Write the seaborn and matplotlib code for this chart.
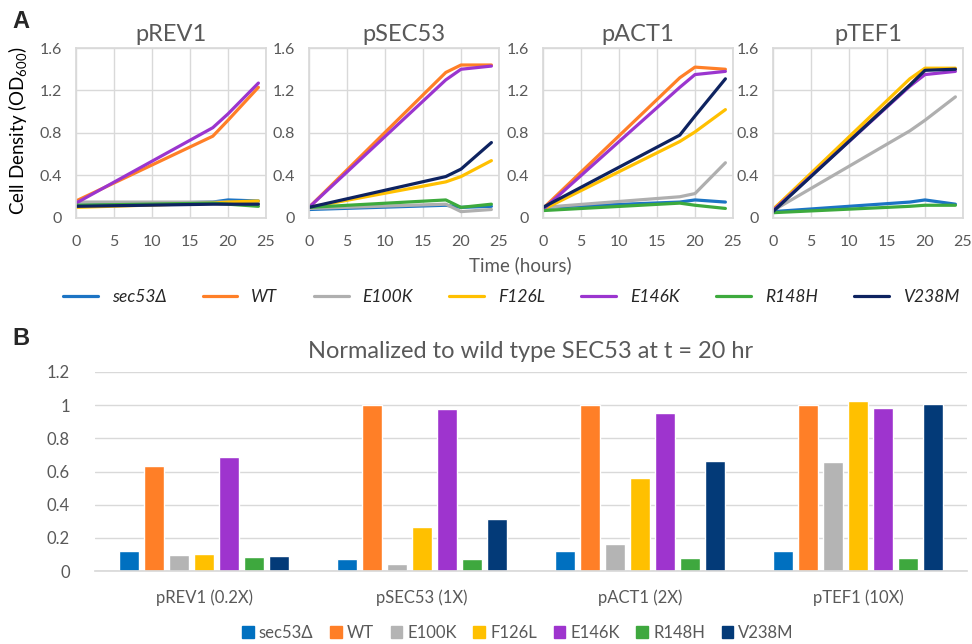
import pandas as pd
import seaborn as sns
import matplotlib.pyplot as plt
from matplotlib.lines import Line2D
from matplotlib.patches import Patch

# strains and colours
strains = ["sec53Δ", "WT", "E100K", "F126L", "E146K", "R148H", "V238M"]
line_colors = ["#1C74C4", "#FF7F27", "#AFAFAF", "#FFC000", "#9B35CF", "#3DAA3D", "#0E2360"]
bar_colors = ["#0070C0", "#FF7F27", "#B4B4B4", "#FFC000", "#9E34CE", "#3EA83E", "#033A78"]

# A: growth curves (OD600), rows follow the strain order
times = [0, 18, 20, 24]
od_prev1 = [[0.12, 0.15, 0.17, 0.16],
            [0.16, 0.77, 0.92, 1.23],
            [0.15, 0.15, 0.15, 0.14],
            [0.10, 0.14, 0.15, 0.16],
            [0.14, 0.85, 0.98, 1.27],
            [0.12, 0.14, 0.13, 0.11],
            [0.11, 0.13, 0.13, 0.13]]
od_psec53 = [[0.08, 0.12, 0.10, 0.11],
             [0.10, 1.37, 1.44, 1.44],
             [0.09, 0.13, 0.06, 0.08],
             [0.10, 0.34, 0.39, 0.54],
             [0.10, 1.30, 1.40, 1.43],
             [0.10, 0.17, 0.10, 0.13],
             [0.10, 0.39, 0.46, 0.71]]
od_pact1 = [[0.10, 0.15, 0.17, 0.15],
            [0.09, 1.32, 1.42, 1.40],
            [0.10, 0.20, 0.23, 0.52],
            [0.08, 0.72, 0.81, 1.02],
            [0.08, 1.23, 1.35, 1.38],
            [0.07, 0.14, 0.12, 0.09],
            [0.10, 0.78, 0.96, 1.31]]
od_ptef1 = [[0.06, 0.15, 0.17, 0.13],
            [0.08, 1.25, 1.40, 1.40],
            [0.07, 0.82, 0.92, 1.14],
            [0.08, 1.31, 1.41, 1.41],
            [0.07, 1.24, 1.35, 1.38],
            [0.05, 0.11, 0.12, 0.12],
            [0.06, 1.25, 1.39, 1.40]]
promoters = ["pREV1", "pSEC53", "pACT1", "pTEF1"]
curves = [od_prev1, od_psec53, od_pact1, od_ptef1]

# B: normalized to WT SEC53 at 20 hr
groups = ["pREV1 (0.2X)", "pSEC53 (1X)", "pACT1 (2X)", "pTEF1 (10X)"]
norm_prev1 = [0.12, 0.635, 0.095, 0.105, 0.69, 0.083, 0.09]
norm_psec53 = [0.07, 1.0, 0.043, 0.265, 0.975, 0.072, 0.315]
norm_pact1 = [0.118, 1.0, 0.16, 0.56, 0.95, 0.08, 0.665]
norm_ptef1 = [0.12, 1.0, 0.66, 1.025, 0.98, 0.08, 1.005]
norms = [norm_prev1, norm_psec53, norm_pact1, norm_ptef1]

rows = []
for prom, cur in zip(promoters, curves):
    for s, vals in zip(strains, cur):
        for t, v in zip(times, vals):
            rows.append({"promoter": prom, "strain": s, "time": t, "od": v})
growth = pd.DataFrame(rows)

rows = []
for g, vals in zip(groups, norms):
    for s, v in zip(strains, vals):
        rows.append({"group": g, "strain": s, "value": v})
normdf = pd.DataFrame(rows)

sns.set_theme(style="white")
plt.rcParams["font.family"] = ["Lato", "DejaVu Sans"]
plt.rcParams["mathtext.default"] = "regular"
txt = "#595959"
grid = "#D9D9D9"

W, H = 972, 644
fig = plt.figure(figsize=(9.72, 6.44), dpi=100)

def box(x0, y0, x1, y1):
    return [x0 / W, 1 - y1 / H, (x1 - x0) / W, (y1 - y0) / H]

lefts = [76, 309, 543, 773]
for i, (prom, x0) in enumerate(zip(promoters, lefts)):
    ax = fig.add_axes(box(x0, 48, x0 + 190, 218))
    sns.lineplot(data=growth[growth.promoter == prom], x="time", y="od", hue="strain",
                 hue_order=strains, palette=line_colors, linewidth=2.3, legend=False, ax=ax)
    ax.set_xlim(0, 25)
    ax.set_ylim(0, 1.6)
    ax.set_xticks(range(0, 26, 5))
    ax.set_yticks([0, 0.4, 0.8, 1.2, 1.6])
    ax.set_yticklabels(["0", "0.4", "0.8", "1.2", "1.6"])
    ax.grid(True, color=grid, linewidth=1)
    for sp in ax.spines.values():
        sp.set_color(grid)
    ax.tick_params(length=0, labelsize=11.5, labelcolor=txt)
    ax.tick_params(axis="y", pad=10)
    ax.tick_params(axis="x", pad=12)
    ax.set_xlabel("")
    ax.set_ylabel("")
    ax.set_title(prom, fontsize=17, color=txt, pad=5)

fig.text(18 / W, 1 - 131 / H, "Cell Density (OD$_{600}$)", rotation=90, ha="center",
         va="center", fontsize=13.5, color="black")
fig.text(520 / W, 1 - 265 / H, "Time (hours)", ha="center", va="center", fontsize=13.5, color=txt)

handles = [Line2D([], [], color=c, linewidth=2.3) for c in line_colors]
fig.legend(handles, strains, loc="center", bbox_to_anchor=(511 / W, 1 - 297 / H), ncol=7,
           frameon=False, prop={"style": "italic", "size": 12.5}, handlelength=2.0,
           columnspacing=2.1, handletextpad=0.8)

fig.text(12 / W, 1 - 21 / H, "A", fontsize=17, fontweight="bold", family="Liberation Sans",
         va="center")
fig.text(12 / W, 1 - 338 / H, "B", fontsize=17, fontweight="bold", family="Liberation Sans",
         va="center")

# panel B
axb = fig.add_axes(box(95, 372, 967, 571))
sns.barplot(data=normdf, x="group", y="value", hue="strain", hue_order=strains,
            palette=bar_colors, saturation=1, width=0.8, gap=0.2, legend=False, ax=axb)
axb.set_ylim(0, 1.2)
axb.set_yticks([0, 0.2, 0.4, 0.6, 0.8, 1, 1.2])
axb.set_yticklabels(["0", "0.2", "0.4", "0.6", "0.8", "1", "1.2"])
axb.grid(True, axis="y", color=grid, linewidth=1)
axb.set_axisbelow(True)
for k in ["top", "right", "left"]:
    axb.spines[k].set_visible(False)
axb.spines["bottom"].set_color(grid)
axb.tick_params(length=0, labelsize=12, labelcolor=txt)
axb.tick_params(axis="y", pad=18)
axb.tick_params(axis="x", pad=13)
axb.set_xlabel("")
axb.set_ylabel("")
axb.set_title("Normalized to wild type SEC53 at t = 20 hr", fontsize=17, color=txt, pad=10)

patches = [Patch(color=c) for c in bar_colors]
fig.legend(patches, strains, loc="center", bbox_to_anchor=(518 / W, 1 - 633 / H), ncol=7,
           frameon=False, fontsize=12, handlelength=0.7, handleheight=0.7,
           handletextpad=0.3, columnspacing=1.0, labelcolor=txt)

fig.savefig("out.png", dpi=100)
